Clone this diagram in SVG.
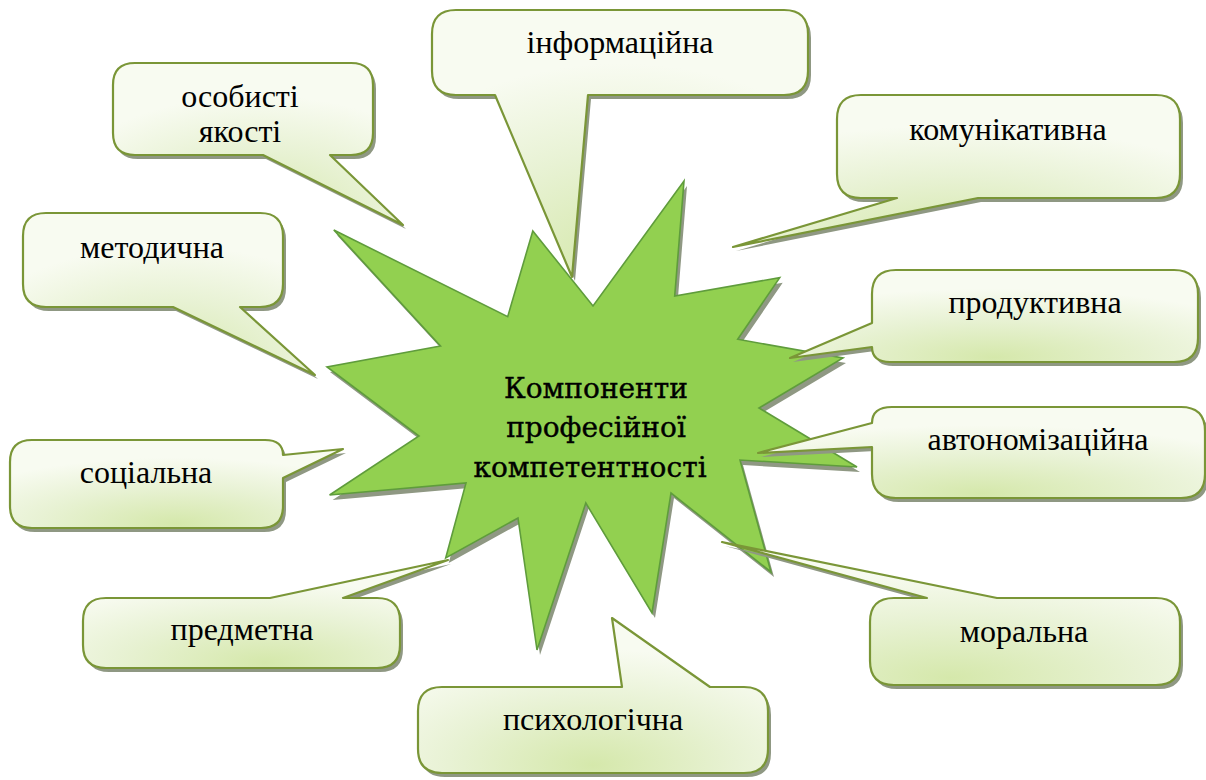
<svg xmlns="http://www.w3.org/2000/svg" xmlns:xlink="http://www.w3.org/1999/xlink" width="1206" height="780" viewBox="0 0 1206 780">
<style>
.shadow{fill:#8f9883;stroke:none}
.callout{fill:url(#cg);stroke:#7a9637;stroke-width:2.2;stroke-linejoin:round}
.star{fill:#92d050;stroke:#5f9c3c;stroke-width:1.6;stroke-linejoin:miter}
</style>
<defs>
<radialGradient id="cg" cx="0.5" cy="0.95" r="0.75">
<stop offset="0" stop-color="#d5e8ab"/>
<stop offset="0.55" stop-color="#e8f2d4"/>
<stop offset="1" stop-color="#f8fbf1"/>
</radialGradient>
<path id="starP" d="M333.8,230 L507.7,316.7 L532.8,231 L593,306 L684,181 L674.7,296 L779.7,277.7 L737.7,339.3 L843,358 L759,408 L857,467 L740,460 L771,572 L671,493 L652,613 L585.8,503 L537,650 L518,518 L445.7,558 L466,483 L329.6,495 L419,436 L327,367 L440.5,346 Z"/>
<path id="p1" d="M135,63 H351 Q373,63 373,85 V133 Q373,155 351,155 H330 L403,225 L263,155 H135 Q113,155 113,133 V85 Q113,63 135,63 Z"/>
<path id="p2" d="M456,10 H784 Q808,10 808,34 V71 Q808,95 784,95 H588 L572,277 L495,95 H456 Q432,95 432,71 V34 Q432,10 456,10 Z"/>
<path id="p3" d="M861,95 H1156 Q1180,95 1180,119 V174 Q1180,198 1156,198 H978 L733,247 L897,198 H861 Q837,198 837,174 V119 Q837,95 861,95 Z"/>
<path id="p4" d="M46,213 H260 Q283,213 283,236 V284 Q283,307 260,307 H240 L315,375 L173,307 H46 Q23,307 23,284 V236 Q23,213 46,213 Z"/>
<path id="p5" d="M32,440 H265 Q283,440 283,455 L343,449 L283,478 V506 Q283,528 261,528 H32 Q10,528 10,506 V462 Q10,440 32,440 Z"/>
<path id="p6" d="M106,598 H270 L448,560 L343,598 H377 Q400,598 400,621 V645 Q400,668 377,668 H106 Q83,668 83,645 V621 Q83,598 106,598 Z"/>
<path id="p7" d="M442,687 H622 L612,618 L710,687 H744 Q768,687 768,711 V749 Q768,773 744,773 H442 Q418,773 418,749 V711 Q418,687 442,687 Z"/>
<path id="p8" d="M896,270 H1174 Q1198,270 1198,294 V338 Q1198,362 1174,362 H890 Q872,362 872,347 L790,358 L872,323 V294 Q872,270 896,270 Z"/>
<path id="p9" d="M892,407 H1181 Q1205,407 1205,431 V474 Q1205,498 1181,498 H896 Q872,498 872,474 V447 L758,453 L872,423 Q872,407 892,407 Z"/>
<path id="p10" d="M894,598 H927 L722,542 L997,598 H1156 Q1180,598 1180,622 V661 Q1180,685 1156,685 H894 Q870,685 870,661 V622 Q870,598 894,598 Z"/>
</defs>
<g id="connectors"/>
<g id="center">
<use xlink:href="#starP" href="#starP" class="shadow" transform="translate(3,5)"/>
<use xlink:href="#starP" href="#starP" class="star"/>
<text x="596" y="398" font-family="DejaVu Serif" font-size="28" text-anchor="middle" fill="#000" stroke="#000" stroke-width="0.4">Компоненти</text>
<text x="596" y="437" font-family="DejaVu Serif" font-size="28" text-anchor="middle" fill="#000" stroke="#000" stroke-width="0.4">професійної</text>
<text x="590" y="477" font-family="DejaVu Serif" font-size="28" text-anchor="middle" fill="#000" stroke="#000" stroke-width="0.4">компетентності</text>
</g>
<g id="n-osobysti">
<use href="#p1" class="shadow" transform="translate(3,4)"/>
<use href="#p1" class="callout"/>
<text x="240" y="107" font-family="Liberation Serif" font-size="32" text-anchor="middle" fill="#000">особисті</text>
<text x="240" y="142" font-family="Liberation Serif" font-size="32" text-anchor="middle" fill="#000">якості</text>
</g>
<g id="n-informatsiina">
<use href="#p2" class="shadow" transform="translate(3,4)"/>
<use href="#p2" class="callout"/>
<text x="620" y="53" font-family="Liberation Serif" font-size="32" text-anchor="middle" fill="#000">інформаційна</text>
</g>
<g id="n-komunikatyvna">
<use href="#p3" class="shadow" transform="translate(3,4)"/>
<use href="#p3" class="callout"/>
<text x="1008" y="140" font-family="Liberation Serif" font-size="32" text-anchor="middle" fill="#000">комунікативна</text>
</g>
<g id="n-metodychna">
<use href="#p4" class="shadow" transform="translate(3,4)"/>
<use href="#p4" class="callout"/>
<text x="152" y="258" font-family="Liberation Serif" font-size="32" text-anchor="middle" fill="#000">методична</text>
</g>
<g id="n-sotsialna">
<use href="#p5" class="shadow" transform="translate(3,4)"/>
<use href="#p5" class="callout"/>
<text x="146" y="483" font-family="Liberation Serif" font-size="32" text-anchor="middle" fill="#000">соціальна</text>
</g>
<g id="n-predmetna">
<use href="#p6" class="shadow" transform="translate(3,4)"/>
<use href="#p6" class="callout"/>
<text x="242" y="640" font-family="Liberation Serif" font-size="32" text-anchor="middle" fill="#000">предметна</text>
</g>
<g id="n-psykholohichna">
<use href="#p7" class="shadow" transform="translate(3,4)"/>
<use href="#p7" class="callout"/>
<text x="593" y="730" font-family="Liberation Serif" font-size="32" text-anchor="middle" fill="#000">психологічна</text>
</g>
<g id="n-produktyvna">
<use href="#p8" class="shadow" transform="translate(3,4)"/>
<use href="#p8" class="callout"/>
<text x="1035" y="313" font-family="Liberation Serif" font-size="32" text-anchor="middle" fill="#000">продуктивна</text>
</g>
<g id="n-avtonomizatsiina">
<use href="#p9" class="shadow" transform="translate(3,4)"/>
<use href="#p9" class="callout"/>
<text x="1038" y="450" font-family="Liberation Serif" font-size="32" text-anchor="middle" fill="#000">автономізаційна</text>
</g>
<g id="n-moralna">
<use href="#p10" class="shadow" transform="translate(3,4)"/>
<use href="#p10" class="callout"/>
<text x="1024" y="642" font-family="Liberation Serif" font-size="32" text-anchor="middle" fill="#000">моральна</text>
</g>
</svg>
